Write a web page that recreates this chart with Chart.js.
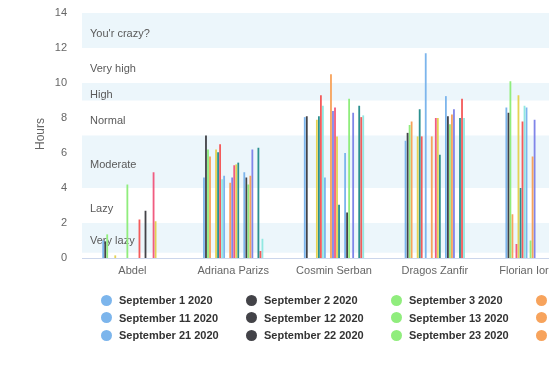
<!DOCTYPE html>
<html>
<head>
<meta charset="utf-8">
<script src="https://cdn.jsdelivr.net/npm/chart.js@4"></script>
<style>
  html, body { margin: 0; padding: 0; background: #fff; overflow: hidden; width: 549px; height: 369px; }
  #wrap { position: relative; width: 549px; height: 369px; overflow: hidden; }
  canvas { position: absolute; left: 0; top: 0; }
  #legend { position: absolute; left: 0; top: 0; width: 1600px; height: 369px; font-family: 'Liberation Sans', Arial, sans-serif; }
  .item { position: absolute; font-size: 11px; font-weight: bold; color: #333333; white-space: nowrap; line-height: 14px; }
  .dot { position: absolute; width: 11px; height: 11px; border-radius: 50%; }
</style>
</head>
<body>
<div id="wrap">
  <canvas id="myChart" width="600" height="290"></canvas>
  <div id="legend"></div>
</div>
<script>
const categories = ['Abdel', 'Adriana Parizs', 'Cosmin Serban', 'Dragos Zanfir', 'Florian Iorescu'];
const seriesNames = [];
for (let d = 1; d <= 30; d++) seriesNames.push('September ' + d + ' 2020');
const colors = ['#7cb5ec', '#434348', '#90ed7d', '#f7a35c', '#8085e9', '#f15c80', '#e4d354', '#2b908f', '#f45b5b', '#91e8e1'];

// hours per person, one value per day (Sep 1 .. Sep 30)
const _ = null;
const abdel   = [1.0, 0.95, 1.35, _, _, _, 0.15, _, _, _,   _, _, 4.2, _, _, _, _, _, 2.2, _,   _, 2.7, _, _, _, 4.9, 2.1, _, _, _];
const adriana = [4.6, 7.0, 6.2, 5.8, _, _, 6.2, 6.05, 6.5, 4.5,   4.7, _, _, 4.3, 4.6, 5.3, 5.35, 5.45, _, _,   4.9, 4.6, 4.2, 4.7, 6.2, _, _, 6.3, 0.4, 1.1];
const cosmin  = [8.05, 8.1, _, _, _, _, 7.9, 8.1, 9.3, 8.7,   4.6, _, _, 10.5, 8.4, 8.6, 6.95, 3.05, _, _,   6.0, 2.6, 9.1, _, 8.3, _, _, 8.7, 8.05, 8.15];
const dragos  = [6.7, 7.15, 7.6, 7.8, _, _, 6.95, 8.5, 6.95, _,   11.7, _, _, 6.95, _, 8.0, 8.0, 5.9, _, _,   9.25, 8.1, 7.65, 8.2, 8.5, _, _, 8.0, 9.1, 8.0];
const florian = [8.6, 8.3, 10.1, 2.5, _, 0.8, 9.3, 4.0, 7.8, 8.7,   8.6, _, 1.0, 5.8, 7.9, _, _, _, _, _,   _, _, _, _, _, _, _, _, _, _];
const people = [abdel, adriana, cosmin, dragos, florian];

const yTicks = [0, 2, 4, 6, 8, 10, 12, 14];
const bands = [
    {label: 'Very lazy',    from: 0.3, to: 2,  shaded: true},
    {label: 'Lazy',         from: 2,   to: 4,  shaded: false},
    {label: 'Moderate',     from: 4,   to: 7,  shaded: true},
    {label: 'Normal',       from: 7,   to: 9,  shaded: false},
    {label: 'High',         from: 9,   to: 10, shaded: true},
    {label: 'Very high',    from: 10,  to: 12, shaded: false},
    {label: "You'r crazy?", from: 12,  to: 14, shaded: true}
];

const fontFamily = "'Liberation Sans', Arial, sans-serif";

const bandPlugin = {
    id: 'bands',
    beforeDatasetsDraw(chart) {
        const ctx = chart.ctx, area = chart.chartArea, y = chart.scales.y;
        ctx.save();
        bands.forEach(b => {
            const top = y.getPixelForValue(b.to), bot = y.getPixelForValue(b.from);
            if (b.shaded) {
                ctx.fillStyle = 'rgba(68,170,213,0.1)';
                ctx.fillRect(area.left, top, area.right - area.left, bot - top);
            }
            ctx.fillStyle = '#5a5a5a';
            ctx.font = '11px ' + fontFamily;
            ctx.textBaseline = 'middle';
            ctx.textAlign = 'left';
            ctx.fillText(b.label, area.left + 8, (top + bot) / 2 + 3);
        });
        // axis title
        ctx.translate(41, 134);
        ctx.rotate(-Math.PI / 2);
        ctx.fillStyle = '#666666';
        ctx.font = '12px ' + fontFamily;
        ctx.textAlign = 'center';
        ctx.textBaseline = 'middle';
        ctx.fillText('Hours', 0, 0);
        ctx.restore();
    }
};

const datasets = seriesNames.map((name, i) => ({
    label: name,
    data: people.map(p => p[i]),
    backgroundColor: colors[i % 10],
    borderWidth: 0,
    categoryPercentage: 0.6,
    barPercentage: 0.9
}));

const ctx = document.getElementById('myChart').getContext('2d');
const myChart = new Chart(ctx, {
    type: 'bar',
    data: { labels: categories, datasets: datasets },
    plugins: [bandPlugin],
    options: {
        responsive: false,
        animation: false,
        devicePixelRatio: 1,
        layout: { padding: { top: 13, right: 14, left: 0, bottom: 0 } },
        plugins: { legend: { display: false }, tooltip: { enabled: false } },
        scales: {
            x: {
                grid: { display: false, drawTicks: false },
                border: { display: true, color: '#ccd6eb', width: 1 },
                ticks: { color: '#666666', font: { size: 11, family: fontFamily }, padding: 6, maxRotation: 0, autoSkip: false },
                afterFit(s) { s.height = 32; s.paddingLeft = 0; s.paddingRight = 0; }
            },
            y: {
                min: 0, max: 14,
                grid: { display: false, drawTicks: false },
                border: { display: false },
                afterBuildTicks(s) { s.ticks = yTicks.map(v => ({value: v})); },
                ticks: { color: '#666666', font: { size: 11, family: fontFamily }, padding: 15 },
                afterFit(s) { s.width = 82; s.paddingTop = 0; s.paddingBottom = 0; }
            }
        }
    }
});

// legend in columns like the original
const legend = document.getElementById('legend');
seriesNames.forEach((name, i) => {
    const row = Math.floor(i / 10), col = i % 10;
    const dot = document.createElement('div');
    dot.className = 'dot';
    dot.style.background = colors[i % 10];
    dot.style.left = (100.5 + col * 145) + 'px';
    dot.style.top = (294.5 + row * 17.7) + 'px';
    legend.appendChild(dot);
    const item = document.createElement('div');
    item.className = 'item';
    item.textContent = name;
    item.style.left = (119 + col * 145) + 'px';
    item.style.top = (293 + row * 17.7) + 'px';
    legend.appendChild(item);
});
</script>
</body>
</html>
